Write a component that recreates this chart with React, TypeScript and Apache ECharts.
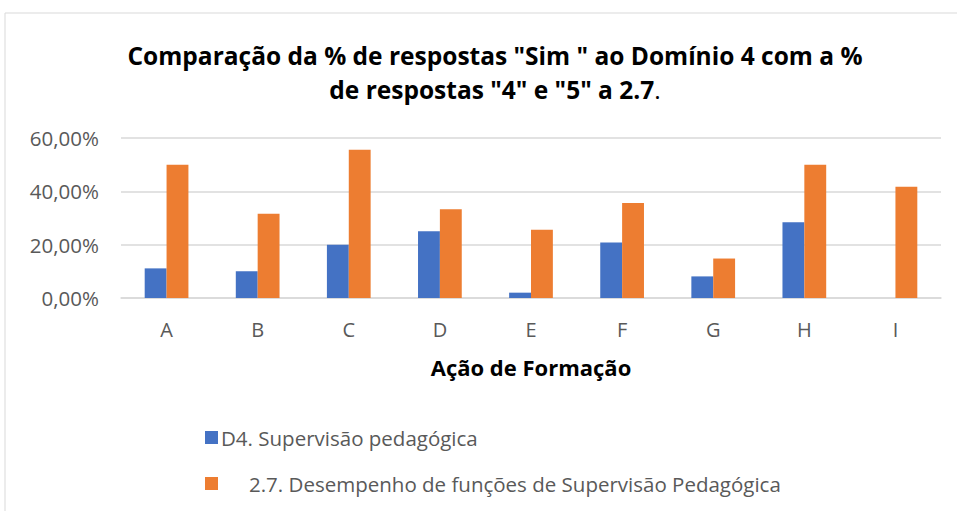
import React, { useEffect, useRef } from "react";
import * as echarts from "echarts";

const categories = ["A", "B", "C", "D", "E", "F", "G", "H", "I"];
const seriesD4 = [11.11, 10, 20, 25, 2.0, 20.8, 8.1, 28.4, 0];
const series27 = [50, 31.6, 55.6, 33.3, 25.6, 35.6, 14.8, 50, 41.7];
const nameD4 = "D4. Supervisão pedagógica";
const name27 = "2.7. Desempenho de funções de Supervisão Pedagógica";
const yTicks = [0, 20, 40, 60];

export default function App() {
  const ref = useRef<HTMLDivElement>(null);
  useEffect(() => {
    const chart = echarts.init(ref.current!, null, { renderer: "svg" });
    const font = "'Open Sans', sans-serif";
    chart.setOption({
      animation: false,
      backgroundColor: "#ffffff",
      textStyle: { fontFamily: font },
      graphic: [
        {
          type: "rect",
          shape: { x: 5, y: 13, width: 970, height: 520 },
          style: { fill: "none", stroke: "#d9d9d9", lineWidth: 1 },
          silent: true,
        },
      ],
      title: {
        left: 490,
        textAlign: "center",
        top: 33,
        text:
          '{b|Comparação da % de respostas "Sim " ao Domínio 4 com a %}\n{b|de respostas "4" e "5" a 2.7}{n|.}',
        textStyle: {
          rich: {
            b: { fontFamily: font, fontWeight: "bold", fontSize: 24.5, color: "#000", lineHeight: 34 },
            n: { fontFamily: font, fontWeight: "normal", fontSize: 24.5, color: "#000", lineHeight: 34 },
          },
        },
      },
      legend: [
        {
          data: [nameD4],
          orient: "vertical",
          left: 200,
          top: 422,
          itemWidth: 13,
          itemHeight: 13,
          icon: "rect",
          textStyle: { fontFamily: font, fontSize: 20.5, color: "#595959", padding: [0, 0, 0, -2] },
        },
        {
          data: [name27],
          orient: "vertical",
          left: 200,
          top: 468,
          itemWidth: 13,
          itemHeight: 13,
          icon: "rect",
          textStyle: { fontFamily: font, fontSize: 20.5, color: "#595959", padding: [0, 0, 0, 26] },
        },
      ],
      grid: { left: 121, right: 16, top: 138, bottom: 213, containLabel: false },
      xAxis: {
        type: "category",
        data: categories,
        axisLine: { lineStyle: { color: "#d9d9d9", width: 1.5 } },
        axisTick: { show: false },
        axisLabel: { color: "#595959", fontSize: 20, margin: 21, fontFamily: font },
        name: "Ação de Formação",
        nameLocation: "middle",
        nameGap: 58,
        nameTextStyle: { fontWeight: "bold", fontSize: 22, color: "#000", fontFamily: font },
      },
      yAxis: {
        type: "value",
        min: yTicks[0],
        max: yTicks[yTicks.length - 1],
        interval: yTicks[1] - yTicks[0],
        axisLine: { show: false },
        axisTick: { show: false },
        splitLine: { lineStyle: { color: "#d9d9d9", width: 1.5 } },
        axisLabel: {
          color: "#595959",
          fontSize: 20.5,
          margin: 22,
          fontFamily: font,
          formatter: (v: number) => v.toFixed(2).replace(".", ",") + "%",
        },
      },
      series: [
        {
          name: nameD4,
          type: "bar",
          data: seriesD4,
          itemStyle: { color: "#4472C4" },
          barGap: "0%",
          barCategoryGap: "52%",
        },
        {
          name: name27,
          type: "bar",
          data: series27,
          itemStyle: { color: "#ED7D31" },
          barGap: "0%",
          barCategoryGap: "52%",
        },
      ],
    });
    return () => chart.dispose();
  }, []);
  return (
    <div style={{ position: "fixed", left: 0, top: 0, width: 957, height: 511 }}>
      <div ref={ref} style={{ width: 957, height: 511 }} />
    </div>
  );
}
